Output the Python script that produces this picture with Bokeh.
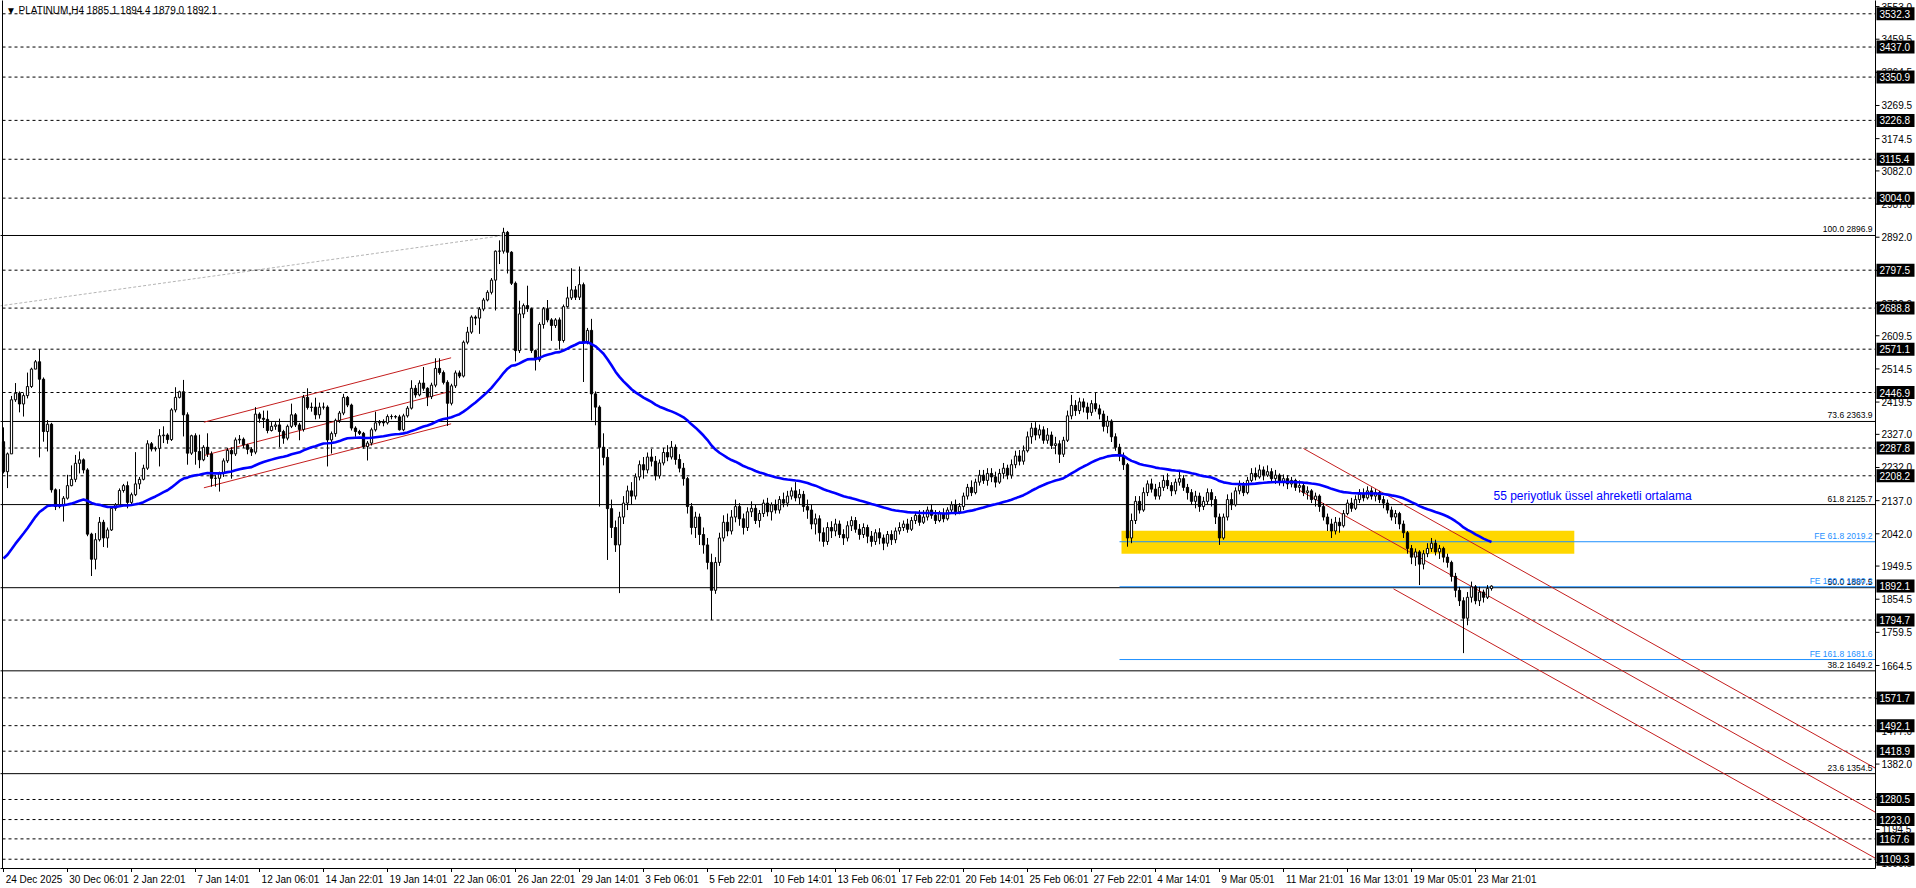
from bokeh.plotting import figure
from bokeh.models import Range1d, FixedTicker, ColumnDataSource, Label
from bokeh.embed import file_html
from bokeh.resources import INLINE
from bokeh.core.properties import value

TITLE = "\u25BC PLATINUM,H4  1885.1 1894.4 1879.0 1892.1"
FIRST_OPEN = 2306.0
EMA_SEED = 1962.0
EMA_PERIOD = 55

closes = [
    2220, 2271, 2426, 2445, 2414, 2438, 2464, 2514, 2535, 2485,
    2335, 2356, 2168, 2120, 2125, 2144, 2180, 2198, 2244, 2254,
    2225, 2041, 1969, 2025, 2075, 2030, 2053, 2115, 2125, 2166,
    2180, 2132, 2154, 2185, 2198, 2230, 2300, 2285, 2287, 2323,
    2325, 2312, 2397, 2433, 2449, 2383, 2273, 2323, 2278, 2254,
    2290, 2271, 2201, 2201, 2215, 2251, 2281, 2271, 2311, 2313,
    2297, 2284, 2276, 2385, 2373, 2370, 2338, 2350, 2354, 2335,
    2316, 2350, 2383, 2354, 2341, 2433, 2404, 2405, 2383, 2405,
    2405, 2311, 2329, 2367, 2388, 2433, 2411, 2345, 2335, 2330,
    2292, 2302, 2340, 2360, 2362, 2360, 2378, 2378, 2377, 2340,
    2380, 2402, 2459, 2440, 2474, 2459, 2435, 2468, 2516, 2504,
    2476, 2416, 2466, 2503, 2494, 2591, 2620, 2663, 2660, 2686,
    2712, 2734, 2769, 2852, 2852, 2906, 2849, 2760, 2567, 2672,
    2696, 2687, 2567, 2541, 2642, 2687, 2655, 2639, 2655, 2596,
    2693, 2718, 2741, 2720, 2756, 2591, 2625, 2443, 2405, 2290,
    2261, 2114, 2060, 2010, 2090, 2130, 2165, 2150, 2205, 2240,
    2225, 2262, 2250, 2208, 2245, 2275, 2262, 2290, 2255, 2230,
    2200, 2120, 2060, 2090, 2040, 2010, 1960, 1880, 1960, 2030,
    2075, 2050, 2090, 2120, 2085, 2060, 2105, 2115, 2080, 2100,
    2130, 2105, 2125, 2110, 2140, 2130, 2150, 2165, 2145, 2155,
    2120, 2110, 2070, 2085, 2045, 2020, 2060, 2050, 2070, 2040,
    2030, 2065, 2080, 2055, 2040, 2060, 2035, 2020, 2045, 2030,
    2015, 2040, 2025, 2050, 2060, 2070, 2055, 2080, 2095, 2075,
    2090, 2110, 2095, 2080, 2100, 2085, 2110, 2125, 2105, 2120,
    2150, 2175, 2160, 2190, 2210, 2195, 2215, 2205, 2190, 2215,
    2230, 2210, 2240, 2265, 2250, 2280, 2320, 2345, 2325, 2340,
    2310, 2325, 2295, 2300, 2270, 2310, 2380, 2410, 2395, 2420,
    2405, 2390, 2415, 2400, 2385, 2350, 2365, 2320, 2290, 2265,
    2240, 2030, 2080, 2135, 2110, 2160, 2185, 2170, 2150, 2175,
    2195, 2180, 2165, 2190, 2200, 2175, 2160, 2135, 2150, 2120,
    2135, 2160, 2140, 2090, 2030, 2090, 2140, 2125, 2165, 2180,
    2160, 2195, 2215, 2205, 2225, 2210, 2220, 2200, 2210, 2190,
    2200, 2185, 2195, 2175, 2180, 2160, 2165, 2140, 2150, 2120,
    2090, 2070, 2050, 2075, 2065, 2100, 2130, 2115, 2140, 2155,
    2145, 2165, 2150, 2160, 2140, 2130, 2110, 2090, 2100, 2070,
    2045, 2000, 1975, 1990, 1955, 1985, 2000, 2015, 1990, 2000,
    1975, 1960, 1920, 1880, 1850, 1800, 1860, 1890, 1850, 1875,
    1860, 1885.1, 1892.1,
]

highs = [
    2347, 2275, 2437, 2474, 2450, 2445, 2504, 2518, 2540, 2571,
    2490, 2368, 2360, 2172, 2170, 2150, 2211, 2238, 2268, 2278,
    2258, 2230, 2045, 2044, 2090, 2082, 2060, 2120, 2130, 2172,
    2185, 2192, 2160, 2276, 2205, 2240, 2310, 2305, 2292, 2342,
    2350, 2330, 2402, 2462, 2452, 2483, 2390, 2326, 2330, 2326,
    2296, 2330, 2278, 2210, 2220, 2258, 2288, 2290, 2318, 2325,
    2318, 2300, 2290, 2405, 2390, 2395, 2395, 2362, 2362, 2372,
    2340, 2355, 2415, 2388, 2360, 2440, 2459, 2418, 2432, 2418,
    2418, 2410, 2335, 2372, 2394, 2443, 2437, 2415, 2350, 2340,
    2334, 2308, 2346, 2392, 2368, 2370, 2384, 2384, 2382, 2383,
    2386, 2408, 2482, 2468, 2482, 2520, 2462, 2475, 2545, 2545,
    2510, 2482, 2472, 2510, 2510, 2596, 2635, 2668, 2668, 2692,
    2718, 2740, 2775, 2854, 2883, 2919, 2910, 2852, 2765, 2710,
    2702, 2753, 2690, 2570, 2648, 2692, 2712, 2660, 2660, 2662,
    2699, 2750, 2803, 2752, 2808, 2762, 2632, 2658, 2450, 2410,
    2330, 2285, 2140, 2080, 2105, 2150, 2180, 2190, 2215, 2252,
    2262, 2275, 2285, 2265, 2255, 2288, 2296, 2308, 2298, 2270,
    2245, 2205, 2130, 2105, 2100, 2060, 2030, 1985, 1975, 2045,
    2095, 2100, 2110, 2140, 2130, 2100, 2118, 2135, 2125, 2110,
    2140, 2145, 2132, 2140, 2150, 2160, 2165, 2175, 2190, 2170,
    2165, 2140, 2125, 2100, 2095, 2060, 2075, 2078, 2085, 2080,
    2055, 2078, 2092, 2090, 2070, 2072, 2068, 2050, 2055, 2058,
    2040, 2050, 2052, 2060, 2075, 2080, 2085, 2090, 2105, 2110,
    2110, 2120, 2125, 2110, 2108, 2115, 2118, 2135, 2140, 2130,
    2160, 2185, 2195, 2200, 2225, 2225, 2230, 2230, 2220, 2228,
    2245, 2240, 2255, 2280, 2282, 2295, 2335, 2360, 2362, 2355,
    2350, 2345, 2335, 2320, 2310, 2320, 2395, 2440, 2425, 2432,
    2430, 2418, 2425, 2448, 2412, 2395, 2380, 2370, 2330, 2300,
    2275, 2245, 2100, 2150, 2150, 2175, 2195, 2200, 2185, 2190,
    2210, 2215, 2190, 2200, 2225, 2210, 2185, 2170, 2165, 2160,
    2148, 2172, 2170, 2150, 2100, 2100, 2155, 2160, 2175, 2195,
    2190, 2205, 2230, 2232, 2240, 2235, 2238, 2230, 2225, 2215,
    2212, 2210, 2205, 2200, 2195, 2190, 2178, 2170, 2160, 2155,
    2130, 2100, 2085, 2090, 2088, 2110, 2140, 2145, 2152, 2170,
    2172, 2178, 2175, 2170, 2165, 2150, 2140, 2120, 2110, 2105,
    2080, 2050, 2010, 2000, 1995, 1995, 2015, 2030, 2025, 2010,
    2005, 1985, 1965, 1930, 1890, 1860, 1875, 1905, 1895, 1890,
    1882, 1895, 1894.4,
]

lows = [
    2215, 2173, 2332, 2420, 2390, 2378, 2430, 2460, 2528, 2261,
    2306, 2278, 2160, 2110, 2115, 2077, 2140, 2178, 2190, 2215,
    2215, 2035, 1921, 1940, 2020, 2004, 2002, 2050, 2108, 2120,
    2160, 2115, 2125, 2150, 2170, 2195, 2225, 2278, 2278, 2235,
    2302, 2300, 2308, 2390, 2430, 2321, 2240, 2268, 2240, 2230,
    2250, 2262, 2177, 2177, 2163, 2205, 2245, 2200, 2265, 2300,
    2288, 2270, 2265, 2270, 2360, 2345, 2330, 2335, 2340, 2290,
    2300, 2310, 2345, 2348, 2310, 2335, 2398, 2392, 2370, 2372,
    2398, 2235, 2272, 2320, 2360, 2382, 2405, 2338, 2320, 2325,
    2286, 2252, 2295, 2335, 2352, 2350, 2355, 2370, 2372, 2338,
    2336, 2375, 2398, 2432, 2436, 2452, 2408, 2428, 2462, 2498,
    2470, 2351, 2410, 2460, 2488, 2490, 2585, 2615, 2640, 2615,
    2680, 2708, 2728, 2682, 2815, 2845, 2788, 2755, 2536, 2560,
    2660, 2678, 2560, 2510, 2535, 2630, 2648, 2595, 2632, 2570,
    2590, 2690, 2712, 2712, 2712, 2477, 2585, 2367, 2353, 2120,
    2238, 1967, 2030, 1990, 1872, 2070, 2110, 2125, 2140, 2195,
    2200, 2215, 2235, 2195, 2200, 2238, 2250, 2255, 2240, 2218,
    2180, 2100, 2040, 2030, 2010, 1985, 1940, 1795, 1870, 1950,
    2020, 2035, 2040, 2075, 2065, 2040, 2050, 2090, 2070, 2060,
    2090, 2092, 2080, 2100, 2100, 2118, 2120, 2140, 2135, 2125,
    2105, 2085, 2055, 2040, 2020, 2005, 2010, 2030, 2035, 2030,
    2010, 2020, 2050, 2045, 2025, 2030, 2015, 2005, 2010, 2012,
    1995, 2005, 2010, 2015, 2040, 2050, 2045, 2050, 2070, 2065,
    2070, 2080, 2085, 2070, 2075, 2075, 2080, 2100, 2095, 2098,
    2110, 2140, 2150, 2155, 2180, 2185, 2180, 2190, 2175, 2185,
    2200, 2198, 2200, 2230, 2238, 2240, 2275, 2300, 2310, 2315,
    2300, 2300, 2285, 2270, 2245, 2262, 2305, 2370, 2380, 2385,
    2390, 2370, 2380, 2392, 2370, 2335, 2330, 2305, 2280, 2250,
    2225, 2005, 2015, 2070, 2100, 2105, 2150, 2160, 2140, 2140,
    2165, 2170, 2150, 2155, 2180, 2165, 2140, 2125, 2115, 2105,
    2110, 2125, 2120, 2070, 2010, 2025, 2080, 2110, 2120, 2155,
    2150, 2155, 2190, 2195, 2200, 2195, 2205, 2190, 2185, 2180,
    2178, 2170, 2175, 2165, 2160, 2150, 2140, 2130, 2120, 2105,
    2080, 2050, 2030, 2040, 2045, 2060, 2095, 2105, 2110, 2130,
    2135, 2140, 2140, 2135, 2130, 2115, 2100, 2080, 2070, 2055,
    2030, 1985, 1955, 1950, 1895, 1940, 1975, 1990, 1980, 1970,
    1960, 1945, 1905, 1860, 1835, 1700, 1780, 1845, 1840, 1835,
    1845, 1855, 1879.0,
]

# x-axis labels, one every 16 bars
time_labels = ["24 Dec 2025", "30 Dec 06:01", "2 Jan 22:01", "7 Jan 14:01", "12 Jan 06:01",
               "14 Jan 22:01", "19 Jan 14:01", "22 Jan 06:01", "26 Jan 22:01", "29 Jan 14:01",
               "3 Feb 06:01", "5 Feb 22:01", "10 Feb 14:01", "13 Feb 06:01", "17 Feb 22:01",
               "20 Feb 14:01", "25 Feb 06:01", "27 Feb 22:01", "4 Mar 14:01", "9 Mar 05:01",
               "11 Mar 21:01", "16 Mar 13:01", "19 Mar 05:01", "23 Mar 21:01"]
LABEL_EVERY = 16

price_ticks = [3553.0, 3459.5, 3364.5, 3269.5, 3174.5, 3082.0, 2987.0, 2892.0, 2797.0,
               2702.0, 2609.5, 2514.5, 2419.5, 2327.0, 2232.0, 2137.0, 2042.0, 1949.5,
               1854.5, 1759.5, 1664.5, 1569.5, 1477.0, 1382.0, 1287.0, 1194.5, 1099.5]

# horizontal (dashed) lines with their axis labels
hlines = [3532.3, 3437.0, 3350.9, 3226.8, 3115.4, 3004.0, 2797.5, 2688.8, 2571.1,
          2446.9, 2287.8, 2208.2, 1794.7, 1571.7, 1492.1, 1418.9, 1280.5, 1223.0,
          1167.6, 1109.3]
BID_PRICE = 1892.1

# Fibonacci retracement
fib_ratios = ["100.0", "73.6", "61.8", "50.0", "38.2", "23.6"]
fib_levels = [2896.9, 2363.9, 2125.7, 1887.5, 1649.2, 1354.5]
fib_base_x = [-1.0, 125.0]
fib_base_y = [2695.0, 2896.9]

# Fibonacci expansion
fe_ratios = ["61.8", "100.0", "161.8"]
fe_levels = [2019.2, 1890.2, 1681.6]
FE_START = 279.0

# yellow zone
zone_left, zone_right, zone_top, zone_bottom = 279.5, 392.7, 2051.0, 1985.0

# red channel lines (bar index, price)
ch_x0 = [50.1, 50.1, 50.1, 325.0, 324.0, 347.5]
ch_y0 = [2361.8, 2266.4, 2173.8, 2286.4, 2166.6, 1884.2]
ch_x1 = [111.9, 111.9, 111.9, 470.0, 470.0, 470.0]
ch_y1 = [2546.4, 2450.7, 2357.2, 1357.1, 1230.9, 1099.1]

NOTE_TEXT = "55 periyotluk üssel ahreketli ortalama"
NOTE_X, NOTE_Y = 372.5, 2149.0

FONT = "Liberation Sans"

# ---------------------------------------------------------------- layout
W, H = 1916, 888
PPU = 4.0                      # pixels per bar
X_START = -0.75                # left frame edge (bar units)
X_EDGE = 468.0                 # price axis line (bar units)
X_RIGHT = X_START + W / PPU
PRICE_PER_PX = 2.866
Y_HIGH = 3570.4
BOTTOM_PX = 16
FRAME_H = H - BOTTOM_PX
Y_LOW = Y_HIGH - FRAME_H * PRICE_PER_PX
Y_AXIS = 1082.7                # bottom axis line inside frame

# ---------------------------------------------------------------- derived data
n = len(closes)
opens = [FIRST_OPEN] + closes[:-1]
xs = list(range(n))
his = [max(h, o, c) for h, o, c in zip(highs, opens, closes)]
los = [min(l, o, c) for l, o, c in zip(lows, opens, closes)]
tops = [max(o, c) for o, c in zip(opens, closes)]
bots = [min(o, c) for o, c in zip(opens, closes)]
fills = ["white" if c >= o else "black" for o, c in zip(opens, closes)]

alpha = 2.0 / (EMA_PERIOD + 1)
ema = []
prev = EMA_SEED
for c in closes:
    prev = prev + alpha * (c - prev)
    ema.append(prev)

p = figure(width=W, height=H, output_backend="svg", toolbar_location=None,
           x_range=Range1d(X_START, X_RIGHT), y_range=Range1d(Y_LOW, Y_HIGH),
           y_axis_location=None, min_border_left=0, min_border_top=0,
           min_border_right=0, min_border_bottom=BOTTOM_PX)
p.background_fill_color = "white"
p.border_fill_color = "white"
p.outline_line_color = None
p.grid.visible = False

# yellow zone (behind)
p.quad(left=[zone_left], right=[zone_right], top=[zone_top], bottom=[zone_bottom],
       fill_color="#FFD700", line_color=None)

# dashed horizontal lines
p.segment(x0=[X_START - 1] * len(hlines), y0=hlines, x1=[X_EDGE] * len(hlines), y1=hlines,
          line_color="black", line_width=1, line_dash="3 3")
# fib solid lines
p.segment(x0=[X_START - 1] * len(fib_levels), y0=fib_levels, x1=[X_EDGE] * len(fib_levels),
          y1=fib_levels, line_color="black", line_width=1)
# fib base (dotted)
p.line(fib_base_x, fib_base_y, line_color="#B4B4B4", line_width=1, line_dash="3 2")
# FE lines
p.segment(x0=[FE_START] * len(fe_levels), y0=fe_levels, x1=[X_EDGE] * len(fe_levels),
          y1=fe_levels, line_color="#1E90FF", line_width=1)

# channels, cut at the price axis
cx1, cy1 = [], []
for a, b, c, d in zip(ch_x0, ch_y0, ch_x1, ch_y1):
    if c > X_EDGE:
        d = b + (d - b) * (X_EDGE - a) / (c - a)
        c = X_EDGE
    cx1.append(c)
    cy1.append(d)
p.segment(x0=ch_x0, y0=ch_y0, x1=cx1, y1=cy1, line_color="#C41E1E", line_width=1)

# candles
src = ColumnDataSource(dict(x=xs, hi=his, lo=los, top=tops, bot=bots, fill=fills))
p.segment(x0="x", y0="lo", x1="x", y1="hi", source=src, line_color="black", line_width=1)
p.vbar(x="x", top="top", bottom="bot", width=0.55, source=src,
       fill_color="fill", line_color="black", line_width=1)

# EMA
p.line(xs, ema, line_color="#0000FF", line_width=2.6)

# level texts
fib_texts = [f"{r} {v:.1f}" for r, v in zip(fib_ratios, fib_levels)]
p.text(x=[X_EDGE - 3 / PPU] * len(fib_levels), y=fib_levels, text=fib_texts,
       text_align="right", text_baseline="bottom", y_offset=-1,
       text_font=value(FONT), text_font_size="8.5px", text_color="black")
fe_texts = [f"FE {r} {v:.1f}" for r, v in zip(fe_ratios, fe_levels)]
p.text(x=[X_EDGE - 3 / PPU] * len(fe_levels), y=fe_levels, text=fe_texts,
       text_align="right", text_baseline="bottom", y_offset=-1,
       text_font=value(FONT), text_font_size="8.5px", text_color="#1E90FF")

p.add_layout(Label(x=NOTE_X, y=NOTE_Y, text=NOTE_TEXT, text_font=FONT,
                   text_font_size="12px", text_color="#0000FF", text_baseline="alphabetic"))
p.text(x=[0.6], y=[Y_HIGH - 10 * PRICE_PER_PX], text=[TITLE], text_baseline="middle",
       text_font=value(FONT), text_font_size="10px", text_color="black")

# frame lines drawn inside the frame: left border, price axis, time axis
p.segment(x0=[X_START + 2 / PPU, X_EDGE, X_START - 1],
          y0=[Y_AXIS, Y_AXIS, Y_AXIS],
          x1=[X_START + 2 / PPU, X_EDGE, X_EDGE],
          y1=[Y_HIGH + 10, Y_HIGH + 10, Y_AXIS],
          line_color="black", line_width=1)

# price axis ticks and labels
vis_ticks = [t for t in price_ticks if Y_AXIS < t < Y_HIGH]
p.segment(x0=[X_EDGE] * len(vis_ticks), y0=vis_ticks,
          x1=[X_EDGE + 4 / PPU] * len(vis_ticks), y1=vis_ticks,
          line_color="black", line_width=1)
p.text(x=[X_EDGE + 6 / PPU] * len(vis_ticks), y=vis_ticks,
       text=[f"{t:.1f}" for t in vis_ticks], text_align="left", text_baseline="middle",
       text_font=value(FONT), text_font_size="10px", text_color="black")

# black label boxes on the price axis
box_prices = hlines + [BID_PRICE]
p.rect(x=[X_EDGE + 20 / PPU] * len(box_prices), y=box_prices, width=38 / PPU,
       height=13, height_units="screen", fill_color="black", line_color=None)
p.text(x=[X_EDGE + 4 / PPU] * len(box_prices), y=box_prices,
       text=[f"{v:.1f}" for v in box_prices], text_align="left", text_baseline="middle",
       text_font=value(FONT), text_font_size="10px", text_color="white")

# time axis tick marks (inside frame)
tick_pos = [i * LABEL_EVERY for i in range(len(time_labels))]
p.segment(x0=tick_pos, y0=[Y_AXIS] * len(tick_pos), x1=tick_pos,
          y1=[Y_AXIS - 3.5 * PRICE_PER_PX] * len(tick_pos), line_color="black", line_width=1)

# time labels: axis below the frame, labels placed to start at the tick
cw = {"0": 5.56, "1": 5.56, "2": 5.56, "3": 5.56, "4": 5.56, "5": 5.56, "6": 5.56,
      "7": 5.56, "8": 5.56, "9": 5.56, " ": 2.78, ":": 2.78, "D": 7.22, "F": 6.11,
      "J": 5.0, "M": 8.33, "e": 5.56, "c": 5.0, "a": 5.56, "n": 5.56, "b": 5.56, "r": 3.33}
shifted = []
overrides = {}
for pos, lab in zip(tick_pos, time_labels):
    w = sum(cw.get(ch, 5.5) for ch in lab)
    s = round(((w / 2 + 2) / PPU) * 8) / 8
    sp = pos + s
    shifted.append(sp)
    overrides[sp] = lab
xa = p.xaxis[0]
xa.ticker = FixedTicker(ticks=shifted)
xa.major_label_overrides = overrides
xa.major_tick_out = 0
xa.major_tick_in = 0
xa.minor_tick_line_color = None
xa.axis_line_color = None
xa.major_label_standoff = 1
xa.major_label_text_font = FONT
xa.major_label_text_font_size = "10px"
xa.major_label_text_color = "black"

open("out.html", "w").write(file_html(p, INLINE))
